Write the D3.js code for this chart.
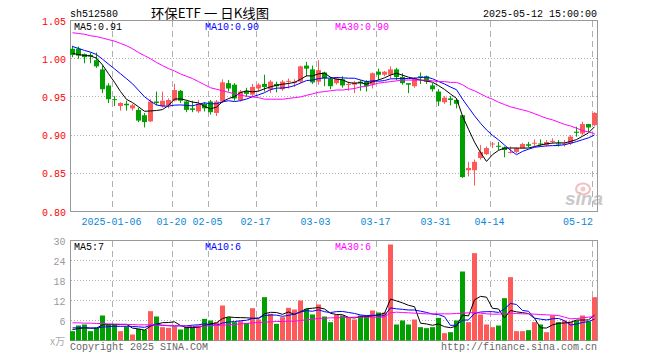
<!DOCTYPE html>
<html><head><meta charset="utf-8">
<script src="https://cdn.jsdelivr.net/npm/d3@7"></script>
<style>body{margin:0;background:#fff}</style>
</head><body><svg id="c" width="660" height="360"></svg>
<script>
const dates = [
"2024-12-25","2024-12-26","2024-12-27","2024-12-30","2024-12-31","2025-01-02","2025-01-03",
"2025-01-06","2025-01-07","2025-01-08","2025-01-09","2025-01-10",
"2025-01-13","2025-01-14","2025-01-15","2025-01-16","2025-01-17",
"2025-01-20","2025-01-21","2025-01-22","2025-01-23","2025-01-24","2025-01-27",
"2025-02-05","2025-02-06","2025-02-07",
"2025-02-10","2025-02-11","2025-02-12","2025-02-13","2025-02-14",
"2025-02-17","2025-02-18","2025-02-19","2025-02-20","2025-02-21",
"2025-02-24","2025-02-25","2025-02-26","2025-02-27","2025-02-28",
"2025-03-03","2025-03-04","2025-03-05","2025-03-06","2025-03-07",
"2025-03-10","2025-03-11","2025-03-12","2025-03-13","2025-03-14",
"2025-03-17","2025-03-18","2025-03-19","2025-03-20","2025-03-21",
"2025-03-24","2025-03-25","2025-03-26","2025-03-27","2025-03-28",
"2025-03-31","2025-04-01","2025-04-02","2025-04-03",
"2025-04-07","2025-04-08","2025-04-09","2025-04-10","2025-04-11",
"2025-04-14","2025-04-15","2025-04-16","2025-04-17","2025-04-18",
"2025-04-21","2025-04-22","2025-04-23","2025-04-24","2025-04-25",
"2025-04-28","2025-04-29","2025-04-30",
"2025-05-06","2025-05-07","2025-05-08","2025-05-09","2025-05-12"];

const opens = [1.013,1.013,1.006,1.005,0.998,0.986,0.965,0.947,0.938,0.941,
0.935,0.933,0.926,0.918,0.944,0.938,0.939,0.945,0.958,0.944,
0.935,0.931,0.941,0.944,0.929,0.944,0.968,0.966,0.946,0.958,
0.953,0.961,0.967,0.960,0.967,0.960,0.970,0.968,0.970,0.991,
0.986,0.970,0.982,0.974,0.968,0.973,0.966,0.966,0.970,0.970,
0.966,0.983,0.979,0.979,0.986,0.976,0.968,0.964,0.977,0.977,
0.965,0.957,0.943,0.948,0.946,0.926,0.854,0.854,0.870,0.875,
0.888,0.886,0.884,0.8775,0.878,0.883,0.888,0.889,0.889,0.887,
0.891,0.889,0.888,0.889,0.9045,0.902,0.9145,0.913];

const highs = [1.017,1.016,1.007,1.008,1.008,0.991,0.968,0.951,0.943,0.945,
0.941,0.936,0.929,0.947,0.957,0.957,0.948,0.967,0.959,0.945,
0.945,0.946,0.943,0.946,0.946,0.973,0.972,0.968,0.959,0.962,
0.967,0.968,0.979,0.972,0.970,0.972,0.974,0.973,0.991,0.996,
0.991,0.998,0.983,0.976,0.976,0.977,0.970,0.971,0.972,0.972,
0.982,0.987,0.984,0.990,0.988,0.981,0.968,0.976,0.982,0.978,
0.968,0.960,0.951,0.951,0.948,0.926,0.865,0.868,0.887,0.885,
0.891,0.891,0.885,0.885,0.884,0.890,0.891,0.8945,0.8945,0.8935,
0.8958,0.8935,0.8935,0.900,0.911,0.9175,0.9145,0.930];

const lows = [1.002,1.000,0.994,0.994,0.988,0.955,0.942,0.938,0.932,0.932,
0.932,0.917,0.910,0.917,0.939,0.936,0.935,0.944,0.942,0.930,
0.930,0.929,0.931,0.927,0.925,0.942,0.957,0.945,0.944,0.950,
0.951,0.957,0.957,0.955,0.956,0.958,0.961,0.963,0.968,0.977,
0.967,0.966,0.964,0.960,0.966,0.962,0.958,0.955,0.958,0.957,
0.961,0.972,0.977,0.974,0.972,0.966,0.955,0.962,0.967,0.967,
0.957,0.938,0.941,0.939,0.935,0.844,0.846,0.834,0.868,0.874,
0.883,0.8805,0.871,0.876,0.876,0.883,0.884,0.885,0.885,0.885,
0.889,0.885,0.885,0.887,0.898,0.900,0.904,0.912];

const closes = [1.005,1.004,1.002,1.003,0.990,0.960,0.947,0.946,0.942,0.939,
0.939,0.919,0.917,0.944,0.942,0.945,0.946,0.959,0.945,0.933,
0.933,0.941,0.935,0.930,0.944,0.969,0.961,0.948,0.957,0.954,
0.963,0.966,0.963,0.970,0.964,0.970,0.971,0.970,0.990,0.987,
0.969,0.985,0.974,0.964,0.974,0.965,0.967,0.969,0.968,0.964,
0.981,0.979,0.983,0.986,0.976,0.968,0.966,0.974,0.976,0.970,
0.960,0.944,0.949,0.946,0.941,0.845,0.857,0.865,0.878,0.883,
0.889,0.885,0.8805,0.878,0.8827,0.8883,0.886,0.890,0.888,0.891,
0.8925,0.888,0.889,0.898,0.903,0.9145,0.910,0.929];

// closes of the 9 sessions before the first shown day (estimated from where MA5/MA10 start)
const priorCloses = [1.030,1.028,1.025,1.022,1.020,1.012,1.008,1.006,1.004];

// 30-day price average
const ma30 = [1.034,1.033,1.032,1.030,1.029,1.027,1.025,1.023,1.020,1.017,
1.013,1.008,1.004,1.000,0.995,0.991,0.987,0.984,0.980,0.977,
0.974,0.970,0.966,0.962,0.960,0.958,0.956,0.954,0.952,0.951,
0.950,0.949,0.947,0.947,0.947,0.947,0.948,0.949,0.950,0.952,
0.954,0.956,0.957,0.958,0.959,0.959,0.960,0.961,0.963,0.964,
0.966,0.968,0.969,0.970,0.971,0.972,0.972,0.972,0.972,0.972,
0.971,0.970,0.970,0.969,0.969,0.966,0.961,0.958,0.954,0.950,
0.947,0.943,0.940,0.937,0.935,0.933,0.931,0.928,0.925,0.922,
0.920,0.917,0.914,0.912,0.909,0.906,0.904,0.902];

// volume, 万手
const volumes = [2.8,4.5,4.8,2.8,3.8,7.5,4.8,5.0,2.8,4.2,
1.8,3.5,3.2,8.8,7.2,4.0,3.8,4.2,3.3,4.0,
4.0,4.5,6.5,6.0,5.5,10.5,7.0,5.5,5.8,5.3,
9.7,6.3,13.0,8.0,5.0,7.0,9.8,9.3,12.0,9.5,
7.8,10.8,7.2,5.5,7.7,7.5,6.8,6.3,7.5,7.5,
9.0,8.4,8.4,28.8,4.8,6.0,4.8,6.3,4.0,3.7,
4.0,6.8,2.2,2.5,6.0,20.7,5.5,26.2,7.8,4.8,
4.0,4.5,12.7,19.0,2.8,2.8,3.1,5.5,4.8,2.5,
7.5,5.5,6.0,5.7,6.0,7.5,5.7,13.0];
const priorVolumes = [4.2,4.5,3.8,4.0,4.9,3.2,3.6,3.4,3.5];
const volMa30 = [5.3,5.3,5.2,5.2,5.1,5.1,5.0,4.9,4.9,4.8,
4.8,4.7,4.7,4.7,4.6,4.6,4.5,4.5,4.4,4.3,
4.2,4.2,4.3,4.4,4.5,4.6,4.7,4.8,5.0,5.1,
5.3,5.4,5.5,5.6,5.7,5.7,5.8,5.8,6.0,6.2,
6.4,6.6,6.7,6.8,6.8,6.9,6.9,7.0,7.0,7.0,
7.0,7.0,7.0,8.3,8.5,8.4,8.3,8.2,8.1,8.0,
8.0,8.0,8.0,8.0,8.1,8.2,8.3,8.4,8.2,8.0,
7.9,7.9,8.0,8.2,8.1,8.0,8.0,7.9,7.8,7.7,
7.6,7.5,7.0,6.5,6.6,6.8,7.0,7.2];

const tickDates = ["2025-01-06","2025-01-20","2025-02-05","2025-02-17","2025-03-03","2025-03-17","2025-03-31","2025-04-14","2025-05-12"];
const tickLabels = ["2025-01-06","01-20","02-05","02-17","03-03","03-17","03-31","04-14","05-12"];
const priceTicks = [0.80,0.85,0.90,0.95,1.00,1.05];
const volTicks = [6,12,18,24,30];

const headerCode = "sh512580";
const headerTitle = "环保ETF 一 日K线图";
const headerTime = "2025-05-12 15:00:00";
const priceMaLabels = ["MA5:0.91","MA10:0.90","MA30:0.90"];
const volMaLabels = ["MA5:7","MA10:6","MA30:6"];

// ---------------- drawing ----------------
const RED = "#ff5a5a", GREEN = "#00a000", GRID = "#b0b0b0", BORDER = "#999";
const MA_COLORS = ["#000000", "#0000ff", "#ff00ff"];
const MONO = "'Liberation Mono','DejaVu Sans Mono',monospace";

const svg = d3.select("#c");
const x = d3.scaleBand().domain(dates).range([70, 598]);
const y = d3.scaleLinear().domain([0.80, 1.05]).range([211.5, 20.5]);
const yv = d3.scaleLinear().domain([0, 30]).range([340.5, 240.5]);
const cx = d => x(d) + 2.5;

function mtext(g, str, x0, y0, color, anchor) {
  const w = str.length * 6;
  const xs = anchor === "end" ? x0 - w : anchor === "middle" ? x0 - w / 2 : x0;
  return g.append("text").attr("x", xs).attr("y", y0).attr("fill", color)
    .attr("font-family", MONO).attr("font-size", 11)
    .attr("textLength", w).attr("lengthAdjust", "spacingAndGlyphs").text(str);
}
function movingAvg(vals, prior, n) {
  const all = prior.concat(vals);
  return vals.map((v, i) => {
    const end = i + prior.length + 1;
    const win = all.slice(Math.max(0, end - n), end);
    return d3.mean(win);
  });
}

// grids
const grid = svg.append("g");
[0.85, 0.90, 0.95, 1.00].forEach(v => {
  const yy = Math.floor(y(v)) + 0.5;
  grid.append("line").attr("x1", 71).attr("x2", 597).attr("y1", yy).attr("y2", yy)
    .attr("stroke", GRID).attr("stroke-dasharray", "1,2");
});
[6, 12, 18, 24].forEach(v => {
  const yy = Math.floor(yv(v)) + 0.5;
  grid.append("line").attr("x1", 71).attr("x2", 597).attr("y1", yy).attr("y2", yy)
    .attr("stroke", GRID).attr("stroke-dasharray", "1,2");
});
tickDates.forEach(d => {
  const xx = x(d) + 0.5;
  grid.append("line").attr("x1", xx).attr("x2", xx).attr("y1", 21).attr("y2", 211)
    .attr("stroke", GRID).attr("stroke-dasharray", "6,4");
  grid.append("line").attr("x1", xx).attr("x2", xx).attr("y1", 241).attr("y2", 340)
    .attr("stroke", GRID).attr("stroke-dasharray", "6,4");
});

// watermark
const wm = svg.append("g").attr("opacity", 0.9);
wm.append("ellipse").attr("cx", 583).attr("cy", 189).attr("rx", 7).attr("ry", 5.5)
  .attr("fill", "none").attr("stroke", "#f2b8b8").attr("stroke-width", 2);
wm.append("circle").attr("cx", 583).attr("cy", 189).attr("r", 2.5).attr("fill", "#f2c4c4");
wm.append("text").attr("x", 565).attr("y", 205).attr("font-family", "'Liberation Sans',Arial,sans-serif")
  .attr("font-size", 19).attr("font-weight", "bold").attr("font-style", "italic")
  .attr("fill", "#c4c4c4").text("sina");

// borders
svg.append("rect").attr("x", 70.5).attr("y", 20.5).attr("width", 527).attr("height", 191)
  .attr("fill", "none").attr("stroke", BORDER);
svg.append("rect").attr("x", 70.5).attr("y", 240.5).attr("width", 527).attr("height", 100)
  .attr("fill", "none").attr("stroke", BORDER);

// candles
const cg = svg.append("g");
dates.forEach((d, i) => {
  const o = opens[i], c = closes[i];
  const col = c >= o ? RED : GREEN;
  cg.append("line").attr("x1", cx(d)).attr("x2", cx(d))
    .attr("y1", y(highs[i])).attr("y2", y(lows[i])).attr("stroke", col);
  const top = y(Math.max(o, c)), bot = y(Math.min(o, c));
  cg.append("rect").attr("x", x(d)).attr("width", 5)
    .attr("y", top).attr("height", Math.max(1, bot - top)).attr("fill", col);
  const vt = yv(volumes[i]);
  cg.append("rect").attr("x", x(d)).attr("width", 5)
    .attr("y", vt).attr("height", yv(0) - vt).attr("fill", col);
});

// moving-average lines
const ma5 = movingAvg(closes, priorCloses, 5);
const ma10 = movingAvg(closes, priorCloses, 10);
const vma5 = movingAvg(volumes, priorVolumes, 5);
const vma10 = movingAvg(volumes, priorVolumes, 10);
const lineP = d3.line().x((v, i) => cx(dates[i])).y(v => y(v));
const lineV = d3.line().x((v, i) => cx(dates[i])).y(v => yv(v));
[ma5, ma10, ma30].forEach((s, k) => svg.append("path").attr("d", lineP(s))
  .attr("fill", "none").attr("stroke", MA_COLORS[k]).attr("stroke-width", 1));
[vma5, vma10, volMa30].forEach((s, k) => svg.append("path").attr("d", lineV(s))
  .attr("fill", "none").attr("stroke", MA_COLORS[k]).attr("stroke-width", 1));

// axis labels
priceTicks.forEach(v => mtext(svg, v.toFixed(2), 66, y(v) + 4, "#ff0000", "end"));
volTicks.forEach(v => mtext(svg, String(v), 65.5, yv(v) + 4, "#999", "end"));
svg.append("text").attr("x", 65).attr("y", 345).attr("text-anchor", "end")
  .attr("font-family", "'Noto Sans CJK SC',sans-serif").attr("font-size", 10)
  .attr("fill", "#aaa").text("x万");
tickDates.forEach((d, k) => {
  const lbl = tickLabels[k];
  const w = lbl.length * 6;
  let c0 = x(d) - 0.5;
  if (c0 + w / 2 > 593) c0 = 593 - w / 2;
  mtext(svg, lbl, c0, 225, "#0a86d6", "middle");
});

// header
mtext(svg, headerCode, 70, 17, "#000");
svg.append("text").attr("x", 151).attr("y", 18).attr("font-family", "'Noto Sans CJK SC',sans-serif")
  .attr("font-size", 13).attr("textLength", 118).attr("lengthAdjust", "spacingAndGlyphs")
  .attr("fill", "#000").text(headerTitle);
mtext(svg, headerTime, 597, 17, "#000", "end");
const maX = [74, 205, 335];
priceMaLabels.forEach((t, k) => mtext(svg, t, maX[k], 30, MA_COLORS[k]));
volMaLabels.forEach((t, k) => mtext(svg, t, maX[k], 250, MA_COLORS[k]));

// footer
mtext(svg, "Copyright 2025 SINA.COM", 70, 350, "#666");
mtext(svg, "http://finance.sina.com.cn", 597, 350, "#666", "end");
</script></body></html>
